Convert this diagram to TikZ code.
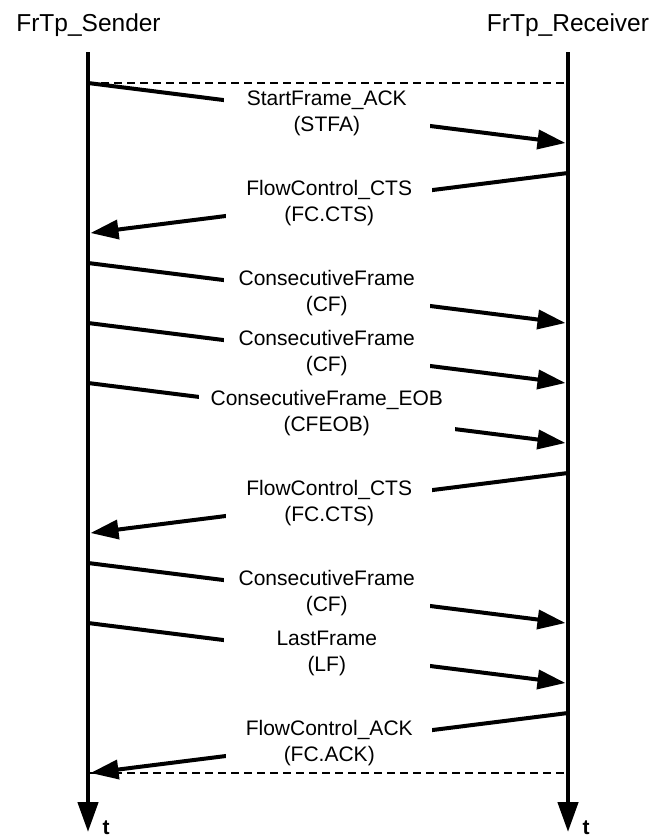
\documentclass[tikz,border=0pt]{standalone}
\usepackage{fontspec}
\setmainfont{Liberation Sans}
\usetikzlibrary{arrows.meta}
\begin{document}
\begin{tikzpicture}[x=1pt,y=-1pt,
  lifeline/.style={line width=4.5pt, -{Triangle[length=30pt,width=20pt]}},
  msg/.style={line width=4pt, -{Triangle[length=28pt,width=19pt]}},
  msglabel/.style={fill=white, inner xsep=12pt, inner ysep=3pt, minimum width=206pt,
                   align=center, font=\fontsize{21}{26}\selectfont},
  guide/.style={line width=1.3pt, dash pattern=on 8pt off 5pt},
  header/.style={font=\fontsize{24.5}{29}\selectfont, anchor=base},
  timelabel/.style={font=\fontsize{21}{25}\selectfont\bfseries, anchor=base west}]
\useasboundingbox (0,0) rectangle (650,838);

% participants
\node[header] (sender)   at (88.5,31) {FrTp\_Sender};
\node[header] (receiver) at (568,31)  {FrTp\_Receiver};

% lifeline end points
\coordinate (sTop) at (88,52);
\coordinate (sEnd) at (88,832);
\coordinate (rTop) at (568,52);
\coordinate (rEnd) at (568,832);

% message end points: s = sender side, r = receiver side
\coordinate (s1) at (88,83);    \coordinate (r1) at (565.5,143);
\coordinate (r2) at (568,173);  \coordinate (s2) at (90.5,233);
\coordinate (s3) at (88,263);   \coordinate (r3) at (565.5,323);
\coordinate (s4) at (88,323);   \coordinate (r4) at (565.5,383);
\coordinate (s5) at (88,383);   \coordinate (r5) at (565.5,443);
\coordinate (r6) at (568,473);  \coordinate (s6) at (90.5,533);
\coordinate (s7) at (88,563);   \coordinate (r7) at (565.5,623);
\coordinate (s8) at (88,623);   \coordinate (r8) at (565.5,683);
\coordinate (r9) at (568,713);  \coordinate (s9) at (90.5,773);

% dashed frame of the transfer
\coordinate (gTopL) at (88,83);  \coordinate (gTopR) at (568,83);
\coordinate (gBotL) at (88,773); \coordinate (gBotR) at (568,773);
\draw[guide] (gTopL) -- (gTopR);
\draw[guide] (gBotL) -- (gBotR);

% time axes
\draw[lifeline] (sTop) -- (sEnd);
\draw[lifeline] (rTop) -- (rEnd);
\node[timelabel] (tS) at (99,834) {t};
\node[timelabel] (tR) at (579,834) {t};

% frames
\draw[msg] (s1) -- (r1) node[msglabel, midway] (m1) {StartFrame\_ACK\\(STFA)};
\draw[msg] (r2) -- (s2) node[msglabel, midway] (m2) {FlowControl\_CTS\\(FC.CTS)};
\draw[msg] (s3) -- (r3) node[msglabel, midway] (m3) {ConsecutiveFrame\\(CF)};
\draw[msg] (s4) -- (r4) node[msglabel, midway] (m4) {ConsecutiveFrame\\(CF)};
\draw[msg] (s5) -- (r5) node[msglabel, midway] (m5) {ConsecutiveFrame\_EOB\\(CFEOB)};
\draw[msg] (r6) -- (s6) node[msglabel, midway] (m6) {FlowControl\_CTS\\(FC.CTS)};
\draw[msg] (s7) -- (r7) node[msglabel, midway] (m7) {ConsecutiveFrame\\(CF)};
\draw[msg] (s8) -- (r8) node[msglabel, midway] (m8) {LastFrame\\(LF)};
\draw[msg] (r9) -- (s9) node[msglabel, midway] (m9) {FlowControl\_ACK\\(FC.ACK)};
\end{tikzpicture}
\end{document}
